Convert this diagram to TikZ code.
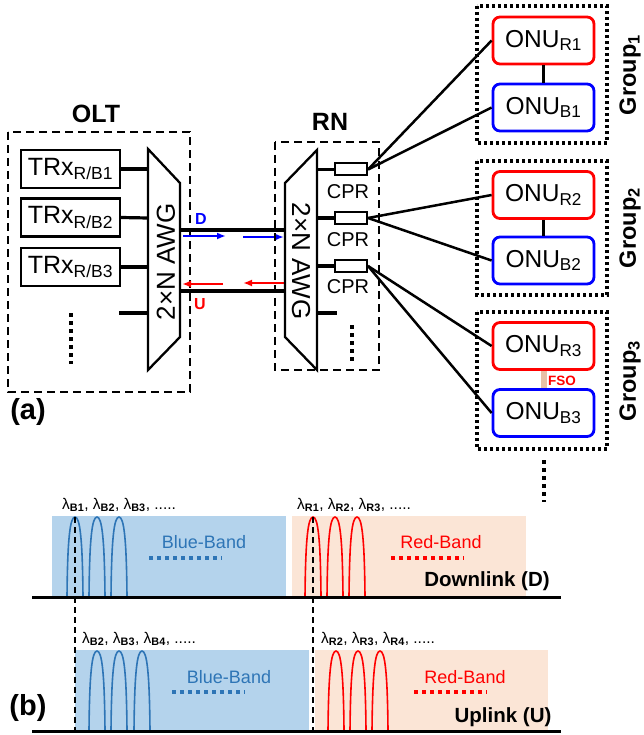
\documentclass[tikz,border=0pt]{standalone}
\usepackage{fontspec}
\setmainfont{Liberation Sans}
\usetikzlibrary{arrows.meta}
\definecolor{bandblue}{RGB}{180,211,236}
\definecolor{bandred}{RGB}{251,229,214}
\definecolor{peakblue}{RGB}{46,117,182}
\definecolor{fsocol}{RGB}{232,192,166}
\newcommand\fs[1]{\fontsize{#1}{#1}\selectfont}
\newcommand\lam[1]{λ\textsubscript{\bfseries #1}}
\tikzset{
  dashbox/.style={draw, line width=2.2pt, dash pattern=on 8pt off 5pt},
  dotbox/.style={draw, line width=3.2pt, dash pattern=on 3pt off 3pt},
  vdots/.style={line width=3.5pt, dash pattern=on 3.5pt off 4.5pt},
  trxbox/.style={draw, line width=2.2pt, minimum width=99pt, minimum height=38pt, inner sep=0pt, font=\fs{25}},
  onubox/.style={draw, line width=2.8pt, rounded corners=7pt, minimum width=101pt, minimum height=47pt, inner sep=0pt, font=\fs{24.5}},
  cprbox/.style={draw, line width=2pt, minimum width=32pt, minimum height=12pt, inner sep=0pt},
  cprlbl/.style={font=\fs{20}, inner sep=0pt},
  awg/.style={line width=2.3pt, line join=miter},
  awglbl/.style={font=\fs{26}, inner sep=0pt},
  trunk/.style={line width=3.5pt},
  stub/.style={line width=3.2pt},
  fiber/.style={line width=2.5pt},
  dirarrow/.style={line width=2.4pt, -{Latex[length=9pt,width=7pt]}},
  title/.style={font=\fs{25}\bfseries, inner sep=0pt},
  grouplbl/.style={font=\fs{23.5}\bfseries, inner sep=0pt, rotate=90},
  lamlbl/.style={font=\fs{15.5}, inner sep=0pt, anchor=west},
  bandlbl/.style={font=\fs{18}, inner sep=0pt},
  banddots/.style={line width=4pt, dash pattern=on 4pt off 4pt},
  linklbl/.style={font=\fs{20.5}\bfseries, inner sep=0pt},
  panel/.style={font=\fs{29}\bfseries, inner sep=0pt},
  marker/.style={line width=1.7pt, dash pattern=on 6pt off 4pt},
  peak/.pic={\draw[line width=1.6pt,#1] (-8,0) .. controls (-7.5,-58) and (-5,-80) .. (0,-80) .. controls (5,-80) and (7.5,-58) .. (8,0);}
}
\begin{document}
\begin{tikzpicture}[x=1pt,y=-1pt]
\useasboundingbox (0,0) rectangle (643,735);

% ---------------- part (b) ----------------
\fill[bandblue] (52,516) rectangle (286,597);
\fill[bandred] (292,516) rectangle (526,597);
\fill[bandblue] (75,650) rectangle (309,731);
\fill[bandred] (315,650) rectangle (548,731);

\foreach \x in {75,97,119} \pic at (\x,597) {peak=peakblue};
\foreach \x in {313,335,357} \pic at (\x,597) {peak=red};
\foreach \x in {97,119,142} \pic at (\x,731) {peak=peakblue};
\foreach \x in {336,358,380} \pic at (\x,731) {peak=red};

\draw[marker] (75,517) -- (75,731);
\draw[marker] (313,517) -- (313,731);

\draw[line width=3pt] (32,597) -- (561,597);
\draw[line width=3pt] (32,731) -- (561,731);

\node[lamlbl] (ldb) at (62,505) {\lam{B1}, \lam{B2}, \lam{B3}, .....};
\node[lamlbl] (ldr) at (297,505) {\lam{R1}, \lam{R2}, \lam{R3}, .....};
\node[lamlbl] (lub) at (82,639) {\lam{B2}, \lam{B3}, \lam{B4}, .....};
\node[lamlbl] (lur) at (321,639) {\lam{R2}, \lam{R3}, \lam{R4}, .....};

\node[bandlbl, text=peakblue] (bbd) at (204,542) {Blue-Band};
\draw[banddots, peakblue] (149,558) -- (222,558);
\node[bandlbl, text=red] (rbd) at (441,542) {Red-Band};
\draw[banddots, red] (391,558) -- (464,558);
\node[linklbl] (dl) at (487,581) {Downlink (D)};

\node[bandlbl, text=peakblue] (bbu) at (229,677) {Blue-Band};
\draw[banddots, peakblue] (172,692) -- (245,692);
\node[bandlbl, text=red] (rbu) at (465,677) {Red-Band};
\draw[banddots, red] (414,692) -- (487,692);
\node[linklbl] (ul) at (503,717) {Uplink (U)};

\node[panel] (pb) at (28,708) {(b)};
\node[panel] (pa) at (28,412) {(a)};

% ---------------- OLT ----------------
\node[title] (olt) at (96,114) {OLT};
\draw[dashbox] (8,132) rectangle (190,392);
\node[trxbox] (t1) at (70.5,169) {TRx\textsubscript{R/B1}};
\node[trxbox] (t2) at (70.5,217.5) {TRx\textsubscript{R/B2}};
\node[trxbox] (t3) at (70.5,267) {TRx\textsubscript{R/B3}};
\draw[awg] (148,149) -- (180,183) -- (180,337) -- (148,370) -- cycle;
\node[awglbl, rotate=90] (awg1) at (166,262) {2×N AWG};
\coordinate (a1) at (148,169);
\coordinate (a2) at (148,218);
\coordinate (a3) at (148,267);
\coordinate (a4) at (148,313);
\coordinate (a4s) at (119,313);
\draw[stub] (t1.east) -- (a1);
\draw[stub] (t2.east) -- (a2);
\draw[stub] (t3.east) -- (a3);
\draw[stub] (a4s) -- (a4);
\draw[vdots] (71,313) -- (71,364);

% ---------------- trunk ----------------
\coordinate (od) at (180,230);
\coordinate (ou) at (180,291);
\coordinate (rd) at (285,230);
\coordinate (ru) at (285,291);
\draw[trunk] (od) -- (rd);
\draw[trunk] (ou) -- (ru);
\coordinate (d1s) at (183,236); \coordinate (d1e) at (226,236);
\coordinate (d2s) at (243,237); \coordinate (d2e) at (284,237);
\coordinate (u1s) at (223,284); \coordinate (u1e) at (182,284);
\coordinate (u2s) at (285,283); \coordinate (u2e) at (243,283);
\draw[dirarrow, blue] (d1s) -- (d1e);
\draw[dirarrow, blue] (d2s) -- (d2e);
\draw[dirarrow, red] (u1s) -- (u1e);
\draw[dirarrow, red] (u2s) -- (u2e);
\node[font=\fs{16}\bfseries, text=blue, inner sep=0pt] (dlab) at (201,219) {D};
\node[font=\fs{16}\bfseries, text=red, inner sep=0pt] (ulab) at (200,304) {U};

% ---------------- RN ----------------
\node[title] (rn) at (330,122) {RN};
\draw[dashbox] (275,142) rectangle (379,370);
\draw[awg] (317,150) -- (285,183) -- (285,337) -- (317,370) -- cycle;
\node[awglbl, rotate=-90] (awg2) at (301,261) {2×N AWG};
\node[cprbox] (c1) at (351,169.5) {};
\node[cprbox] (c2) at (351,218) {};
\node[cprbox] (c3) at (351,266) {};
\node[cprlbl] (cl1) at (348,192) {CPR};
\node[cprlbl] (cl2) at (348,240) {CPR};
\node[cprlbl] (cl3) at (348,287) {CPR};
\coordinate (r1) at (317,169.5);
\coordinate (r2) at (317,218);
\coordinate (r3) at (317,266);
\coordinate (r4) at (317,313);
\coordinate (r4s) at (337,313);
\draw[stub] (r1) -- (c1.west);
\draw[stub] (r2) -- (c2.west);
\draw[stub] (r3) -- (c3.west);
\draw[stub] (r4) -- (r4s);
\draw[vdots] (352,325) -- (352,364);

% ---------------- ONUs ----------------
\draw[dotbox] (477,6) rectangle (607,143);
\draw[dotbox] (477,161) rectangle (607,295);
\draw[dotbox] (477,312) rectangle (607,449);
\node[onubox, draw=red] (or1) at (543.5,40.5) {ONU\textsubscript{R1}};
\node[onubox, draw=blue] (ob1) at (543.5,107.5) {ONU\textsubscript{B1}};
\node[onubox, draw=red] (or2) at (543.5,195) {ONU\textsubscript{R2}};
\node[onubox, draw=blue] (ob2) at (543.5,260.5) {ONU\textsubscript{B2}};
\node[onubox, draw=red] (or3) at (543.5,346) {ONU\textsubscript{R3}};
\node[onubox, draw=blue] (ob3) at (543.5,413) {ONU\textsubscript{B3}};
\draw[line width=2.2pt] (or1.south) -- (ob1.north);
\draw[line width=2.2pt] (or2.south) -- (ob2.north);
\draw[line width=6pt, fsocol] (or3.south) -- (ob3.north);
\node[font=\fs{13.5}\bfseries, text=red, inner sep=0pt] (fso) at (562,381) {FSO};
\draw[vdots] (544,460) -- (544,502);
\node[grouplbl] (g1) at (630,75) {Group\textsubscript{1}};
\node[grouplbl] (g2) at (630,228) {Group\textsubscript{2}};
\node[grouplbl] (g3) at (630,381) {Group\textsubscript{3}};

\draw[fiber] (c1.east) -- (or1.west);
\draw[fiber] (c1.east) -- (ob1.west);
\draw[fiber] (c2.east) -- (or2.west);
\draw[fiber] (c2.east) -- (ob2.west);
\draw[fiber] (c3.east) -- (or3.west);
\draw[fiber] (c3.east) -- (ob3.west);
\end{tikzpicture}
\end{document}
